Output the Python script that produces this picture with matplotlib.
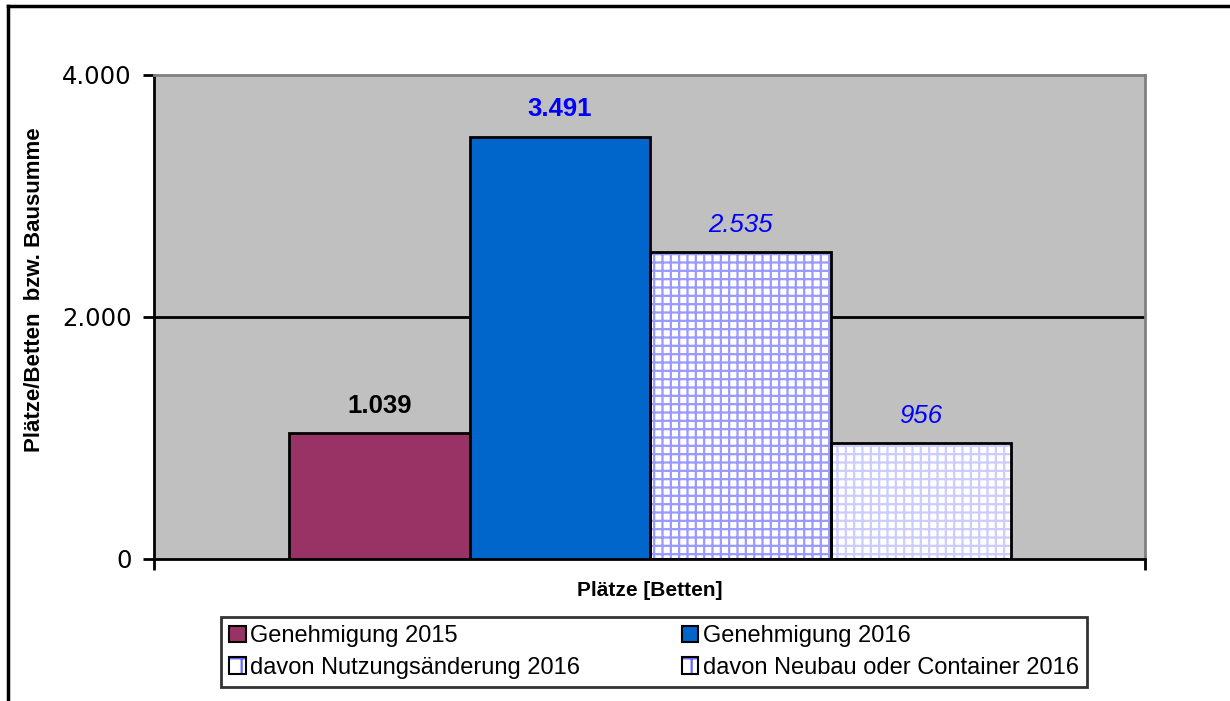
import matplotlib.pyplot as plt
from matplotlib.patches import Patch
from matplotlib.legend_handler import HandlerTuple

series = ["Genehmigung 2015", "Genehmigung 2016",
          "davon Nutzungsänderung 2016", "davon Neubau oder Container 2016"]
values = [1039, 3491, 2535, 956]
value_labels = ["1.039", "3.491", "2.535", "956"]
yticks = [0, 2000, 4000]
ytick_labels = ["0", "2.000", "4.000"]

faces = ["#993366", "#0066cc", "white", "white"]
hatch_colors = [None, None, "#9999ff", "#ccccff"]
label_colors = ["black", "#0000ff", "#0000ff", "#0000ff"]
label_weights = ["bold", "bold", "normal", "normal"]
label_styles = ["normal", "normal", "italic", "italic"]

plt.rcParams["hatch.linewidth"] = 1.6
fig = plt.figure(figsize=(12.3, 7.01), dpi=100)
W, H = 1230, 701
ax = fig.add_axes([154 / W, 1 - 559 / H, 991 / W, 484 / H])
ax.set_facecolor("#c0c0c0")

bw = 180.5 / 991
x0 = 135 / 991
for i, v in enumerate(values):
    x = x0 + i * bw
    if hatch_colors[i]:
        ax.bar(x, v, width=bw, align="edge", color="white", edgecolor=hatch_colors[i],
               hatch="++", linewidth=0, zorder=2)
        ax.bar(x, v, width=bw, align="edge", fill=False, edgecolor="black", linewidth=2, zorder=3)
    else:
        ax.bar(x, v, width=bw, align="edge", color=faces[i], edgecolor="black", linewidth=2, zorder=3)
    ax.text(x + bw / 2, v + 125, value_labels[i], ha="center", va="bottom",
            fontsize=18.5, family="Liberation Sans", color=label_colors[i],
            fontweight=label_weights[i], fontstyle=label_styles[i], zorder=4)

ax.axhline(2000, color="black", lw=2, zorder=1)
ax.set_xlim(0, 1)
ax.set_ylim(0, 4000)
ax.set_yticks(yticks)
ax.set_yticklabels(ytick_labels, fontsize=17.5, family="DejaVu Sans")
ax.set_xticks([0, 1])
ax.set_xticklabels(["", ""])
ax.tick_params(axis="both", direction="out", length=8, width=2, color="black", pad=8)
for s in ["left", "bottom"]:
    ax.spines[s].set_color("black")
    ax.spines[s].set_linewidth(2)
for s in ["top", "right"]:
    ax.spines[s].set_color("#808080")
    ax.spines[s].set_linewidth(2)

fig.text(35 / W, 1 - 290 / H, "Plätze/Betten  bzw. Bausumme", rotation=90, ha="center", va="center",
         fontsize=16, fontweight="bold", family="Liberation Sans")
fig.text(650 / W, 1 - 591 / H, "Plätze [Betten]", ha="center", va="center",
         fontsize=15, fontweight="bold", family="Liberation Sans")

# outer frame (top and left edges visible)
fig.add_artist(plt.Line2D([8 / W, 1], [1 - 6 / H, 1 - 6 / H], color="black", lw=2.5))
fig.add_artist(plt.Line2D([8 / W, 8 / W], [0, 1 - 6 / H], color="black", lw=2.5))

handles = []
for i in range(4):
    if hatch_colors[i]:
        handles.append((Patch(facecolor="white", edgecolor="#6666ff", hatch="+", linewidth=0),
                        Patch(fill=False, edgecolor="black", linewidth=1.5)))
    else:
        handles.append(Patch(facecolor=faces[i], edgecolor="black", linewidth=1.5))
order = [0, 2, 1, 3]
leg = fig.legend([handles[k] for k in order], [series[k] for k in order], ncol=2,
                 loc="center", bbox_to_anchor=(654 / W, 1 - 652 / H),
                 handler_map={tuple: HandlerTuple(ndivide=1, pad=0)},
                 prop={"family": "Liberation Sans", "size": 17},
                 frameon=True, fancybox=False, edgecolor="black",
                 handlelength=0.7, handleheight=0.7, handletextpad=0.2,
                 columnspacing=4.3, labelspacing=0.42, borderpad=0.35)
leg.get_frame().set_linewidth(2)

fig.savefig("out.png", dpi=100, facecolor="white")
